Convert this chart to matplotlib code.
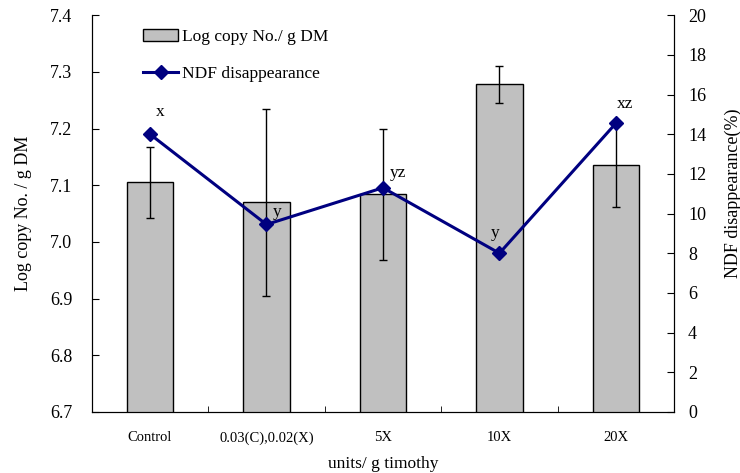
import matplotlib
matplotlib.use("Agg")
import matplotlib.pyplot as plt
import numpy as np

# data
categories = ["Control", "0.03(C),0.02(X)", "5X", "10X", "20X"]
log_copy = [7.105, 7.070, 7.084, 7.278, 7.135]
log_copy_err = [0.062, 0.165, 0.116, 0.033, 0.074]
ndf = [14.0, 9.45, 11.3, 8.0, 14.55]
letters = ["x", "y", "yz", "y", "xz"]

plt.rcParams['font.family'] = ['Liberation Serif', 'DejaVu Serif']

fig = plt.figure(figsize=(7.40, 4.73), dpi=100)
ax = fig.add_axes([0.124, 0.129, 0.787, 0.839])
ax2 = ax.twinx()

x = np.arange(len(categories))

# Bars: log copy number
bars = ax.bar(x, log_copy, width=0.4, color='#C0C0C0', edgecolor='black',
              linewidth=1.0, label='Log copy No./ g DM', zorder=2)
ax.errorbar(x, log_copy, yerr=log_copy_err, fmt='none', ecolor='black',
            elinewidth=1.0, capsize=3, capthick=1.0, zorder=3)

ax.set_ylim(6.7, 7.4)
ticks = np.arange(6.7, 7.41, 0.1)
ax.set_yticks(ticks)
ax.set_yticklabels([f"{v:.1f}" for v in ticks], fontsize=13)
ax.set_xlim(-0.5, len(categories) - 0.5)
ax.set_xticks(x)
ax.set_xticklabels(categories, fontsize=10.5)
ax.set_xticks(np.arange(0.5, len(categories) - 0.5, 1), minor=True)
ax.tick_params(axis='x', which='major', length=0, pad=14)
ax.tick_params(axis='x', which='minor', direction='in', length=4)
ax.tick_params(axis='y', direction='in', length=5, pad=14)
ax.set_ylabel('Log copy No. / g DM', fontsize=13, labelpad=13)
ax.set_xlabel('units/ g timothy', fontsize=12.5, labelpad=8)
ax.spines['top'].set_visible(False)

# Line: NDF disappearance
line, = ax2.plot(x, ndf, color='#000080', linewidth=2.2, marker='D',
                 markersize=7, label='NDF disappearance', zorder=4)
ax2.set_ylim(0, 20)
ax2.set_yticks(np.arange(0, 21, 2))
ax2.tick_params(axis='y', direction='in', length=5, pad=10, labelsize=13)
ax2.set_ylabel('NDF disappearance(%)', fontsize=13, labelpad=13, y=0.55)
ax2.spines['top'].set_visible(False)

# significance letters
label_pos = [(0.084, 15.1), (1.089, 10.08), (2.129, 12.04), (2.962, 9.02), (4.079, 15.52)]
for lab, (lx, ly) in zip(letters, label_pos):
    ax2.text(lx, ly, lab, fontsize=12.5, ha='center', va='center')

ax.set_zorder(ax2.get_zorder() - 1)
ax.patch.set_visible(False)
ax2.patch.set_visible(False)

ax2.legend([bars, line], ['Log copy No./ g DM', 'NDF disappearance'],
           loc='upper left', bbox_to_anchor=(0.062, 1.005), frameon=False,
           fontsize=12.5, labelspacing=1.2, handlelength=2.0, handleheight=0.75,
           handletextpad=0.2)

fig.savefig("out.png", dpi=100)
